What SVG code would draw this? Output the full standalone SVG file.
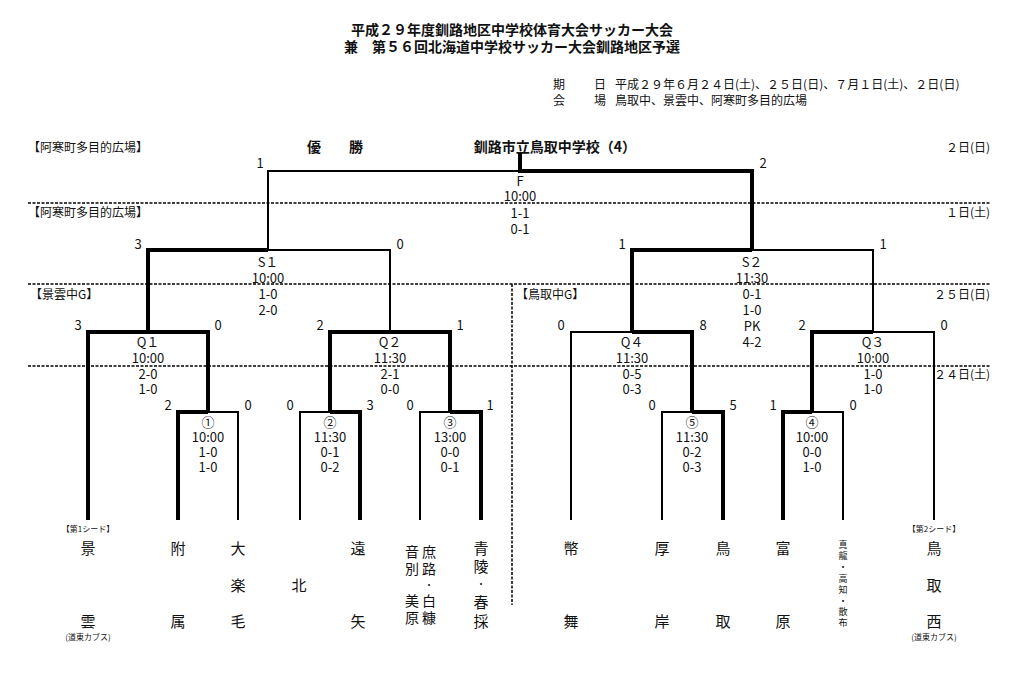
<svg xmlns="http://www.w3.org/2000/svg" width="1027" height="688" viewBox="0 0 1027 688">
<style>
text{font-family:"Noto Sans CJK JP","Liberation Sans",sans-serif;font-size:13px;fill:#111;text-anchor:middle;dominant-baseline:central}
.t{font-size:14px;font-weight:bold}
.l{text-anchor:start;font-size:12px}
.r{text-anchor:end;font-size:12px}
.n{font-size:15px}
.m{font-size:14px}
.s{font-size:8px}
.v{font-size:9px}
.th{stroke:#000;stroke-width:4;fill:none}
.tn{stroke:#000;stroke-width:2;fill:none}
.d{stroke:#000;stroke-width:1.5;stroke-dasharray:3,1.5;fill:none}
</style>
<rect width="1027" height="688" fill="#fff"/>
<g id="header">
<text x="512" y="29" class="t">平成２９年度釧路地区中学校体育大会サッカー大会</text>
<text x="512" y="46" class="t">兼　第５６回北海道中学校サッカー大会釧路地区予選</text>
<text x="553" y="83" class="l">期</text><text x="594" y="83" class="l">日</text>
<text x="615" y="83" class="l">平成２９年６月２４日(土)、２５日(日)、７月１日(土)、２日(日)</text>
<text x="553" y="99" class="l">会</text><text x="594" y="99" class="l">場</text>
<text x="615" y="99" class="l">鳥取中、景雲中、阿寒町多目的広場</text>
<text x="28" y="146" class="l">【阿寒町多目的広場】</text>
<text x="335" y="146" class="t">優　　勝</text>
<text x="555" y="146" class="t">釧路市立鳥取中学校（4）</text>
<text x="990" y="146" class="r">２日(日)</text>
<text x="28" y="211" class="l">【阿寒町多目的広場】</text>
<text x="990" y="211" class="r">１日(土)</text>
<text x="30" y="293" class="l">【景雲中G】</text>
<text x="516" y="293" class="l">【鳥取中G】</text>
<text x="990" y="293" class="r">２５日(日)</text>
<text x="990" y="373" class="r">２４日(土)</text>
</g>
<g id="connectors">
<path class="d" d="M28 203H990M28 284H990M28 366H990M512 284V605"/>
<path class="th" d="M520 153V171H752V250"/>
<path class="tn" d="M520 171H268V250"/>
<path class="th" d="M268 250H148V332"/>
<path class="tn" d="M268 250H390V332"/>
<path class="th" d="M752 250H632V332"/>
<path class="tn" d="M752 250H873V332"/>
<path class="th" d="M88 520V332H208V412"/>
<path class="th" d="M330 412V332H450V412"/>
<path class="tn" d="M632 332H571V520"/>
<path class="th" d="M632 332H692V412"/>
<path class="th" d="M873 332H812V412"/>
<path class="tn" d="M873 332H934V520"/>
<path class="th" d="M208 412H178V520"/>
<path class="tn" d="M208 412H238V520"/>
<path class="th" d="M330 412H360V520"/>
<path class="tn" d="M330 412H300V520"/>
<path class="th" d="M450 412H481V520"/>
<path class="tn" d="M450 412H420V520"/>
<path class="th" d="M692 412H723V520"/>
<path class="tn" d="M692 412H662V520"/>
<path class="th" d="M812 412H783V520"/>
<path class="tn" d="M812 412H843V520"/>
</g>
<g id="F"><text x="260" y="162">1</text><text x="763" y="162">2</text>
<text x="520" y="180">F</text><text x="520" y="195">10:00</text><text x="520" y="212">1-1</text><text x="520" y="228">0-1</text></g>
<g id="S1"><text x="138" y="243">3</text><text x="400" y="243">0</text>
<text x="268" y="261">S１</text><text x="268" y="277">10:00</text><text x="268" y="293">1-0</text><text x="268" y="309">2-0</text></g>
<g id="S2"><text x="622" y="243">1</text><text x="883" y="243">1</text>
<text x="752" y="261">S２</text><text x="752" y="277">11:30</text><text x="752" y="293">0-1</text><text x="752" y="309">1-0</text><text x="752" y="325">PK</text><text x="752" y="341">4-2</text></g>
<g id="Q1"><text x="78" y="324">3</text><text x="218" y="324">0</text>
<text x="148" y="341">Q１</text><text x="148" y="357">10:00</text><text x="148" y="373">2-0</text><text x="148" y="388">1-0</text></g>
<g id="Q2"><text x="320" y="324">2</text><text x="460" y="324">1</text>
<text x="390" y="341">Q２</text><text x="390" y="357">11:30</text><text x="390" y="373">2-1</text><text x="390" y="388">0-0</text></g>
<g id="Q4"><text x="561" y="324">0</text><text x="703" y="324">8</text>
<text x="632" y="341">Q４</text><text x="632" y="357">11:30</text><text x="632" y="373">0-5</text><text x="632" y="388">0-3</text></g>
<g id="Q3"><text x="802" y="324">2</text><text x="944" y="324">0</text>
<text x="873" y="341">Q３</text><text x="873" y="357">10:00</text><text x="873" y="373">1-0</text><text x="873" y="388">1-0</text></g>
<g id="M1"><text x="168" y="404">2</text><text x="248" y="404">0</text>
<text x="208" y="421">①</text><text x="208" y="436">10:00</text><text x="208" y="451">1-0</text><text x="208" y="466">1-0</text></g>
<g id="M2"><text x="290" y="404">0</text><text x="370" y="404">3</text>
<text x="330" y="421">②</text><text x="330" y="436">11:30</text><text x="330" y="451">0-1</text><text x="330" y="466">0-2</text></g>
<g id="M3"><text x="410" y="404">0</text><text x="490" y="404">1</text>
<text x="450" y="421">③</text><text x="450" y="436">13:00</text><text x="450" y="451">0-0</text><text x="450" y="466">0-1</text></g>
<g id="M5"><text x="652" y="404">0</text><text x="733" y="404">5</text>
<text x="692" y="421">⑤</text><text x="692" y="436">11:30</text><text x="692" y="451">0-2</text><text x="692" y="466">0-3</text></g>
<g id="M4"><text x="773" y="404">1</text><text x="853" y="404">0</text>
<text x="812" y="421">④</text><text x="812" y="436">10:00</text><text x="812" y="451">0-0</text><text x="812" y="466">1-0</text></g>
<g id="teams">
<text x="88" y="528" class="s">【第1シード】</text>
<text x="88" y="547" class="n">景</text><text x="88" y="620" class="n">雲</text>
<text x="88" y="636" class="s">(道東カブス)</text>
<text x="178" y="547" class="n">附</text><text x="178" y="620" class="n">属</text>
<text x="238" y="547" class="n">大</text><text x="238" y="584" class="n">楽</text><text x="238" y="620" class="n">毛</text>
<text x="299" y="584" class="n">北</text>
<text x="358" y="547" class="n">遠</text><text x="358" y="620" class="n">矢</text>
<text x="412" y="551" class="m">音</text><text x="412" y="568" class="m">別</text><text x="412" y="600" class="m">美</text><text x="412" y="617" class="m">原</text>
<text x="429" y="551" class="m">庶</text><text x="429" y="568" class="m">路</text><text x="429" y="584" class="v">・</text><text x="429" y="600" class="m">白</text><text x="429" y="617" class="m">糠</text>
<text x="481" y="547" class="n">青</text><text x="481" y="565" class="n">陵</text><text x="481" y="583" class="v">・</text><text x="481" y="601" class="n">春</text><text x="481" y="620" class="n">採</text>
<text x="571" y="547" class="n">幣</text><text x="571" y="620" class="n">舞</text>
<text x="662" y="547" class="n">厚</text><text x="662" y="620" class="n">岸</text>
<text x="723" y="547" class="n">鳥</text><text x="723" y="620" class="n">取</text>
<text x="783" y="547" class="n">富</text><text x="783" y="620" class="n">原</text>
<text x="843" y="544" class="v">真</text><text x="843" y="555" class="v">龍</text><text x="843" y="566" class="v">・</text><text x="843" y="578" class="v">高</text><text x="843" y="589" class="v">知</text><text x="843" y="600" class="v">・</text><text x="843" y="611" class="v">散</text><text x="843" y="622" class="v">布</text>
<text x="934" y="528" class="s">【第2シード】</text>
<text x="934" y="547" class="n">鳥</text><text x="934" y="584" class="n">取</text><text x="934" y="620" class="n">西</text>
<text x="934" y="636" class="s">(道東カブス)</text>
</g>
</svg>
